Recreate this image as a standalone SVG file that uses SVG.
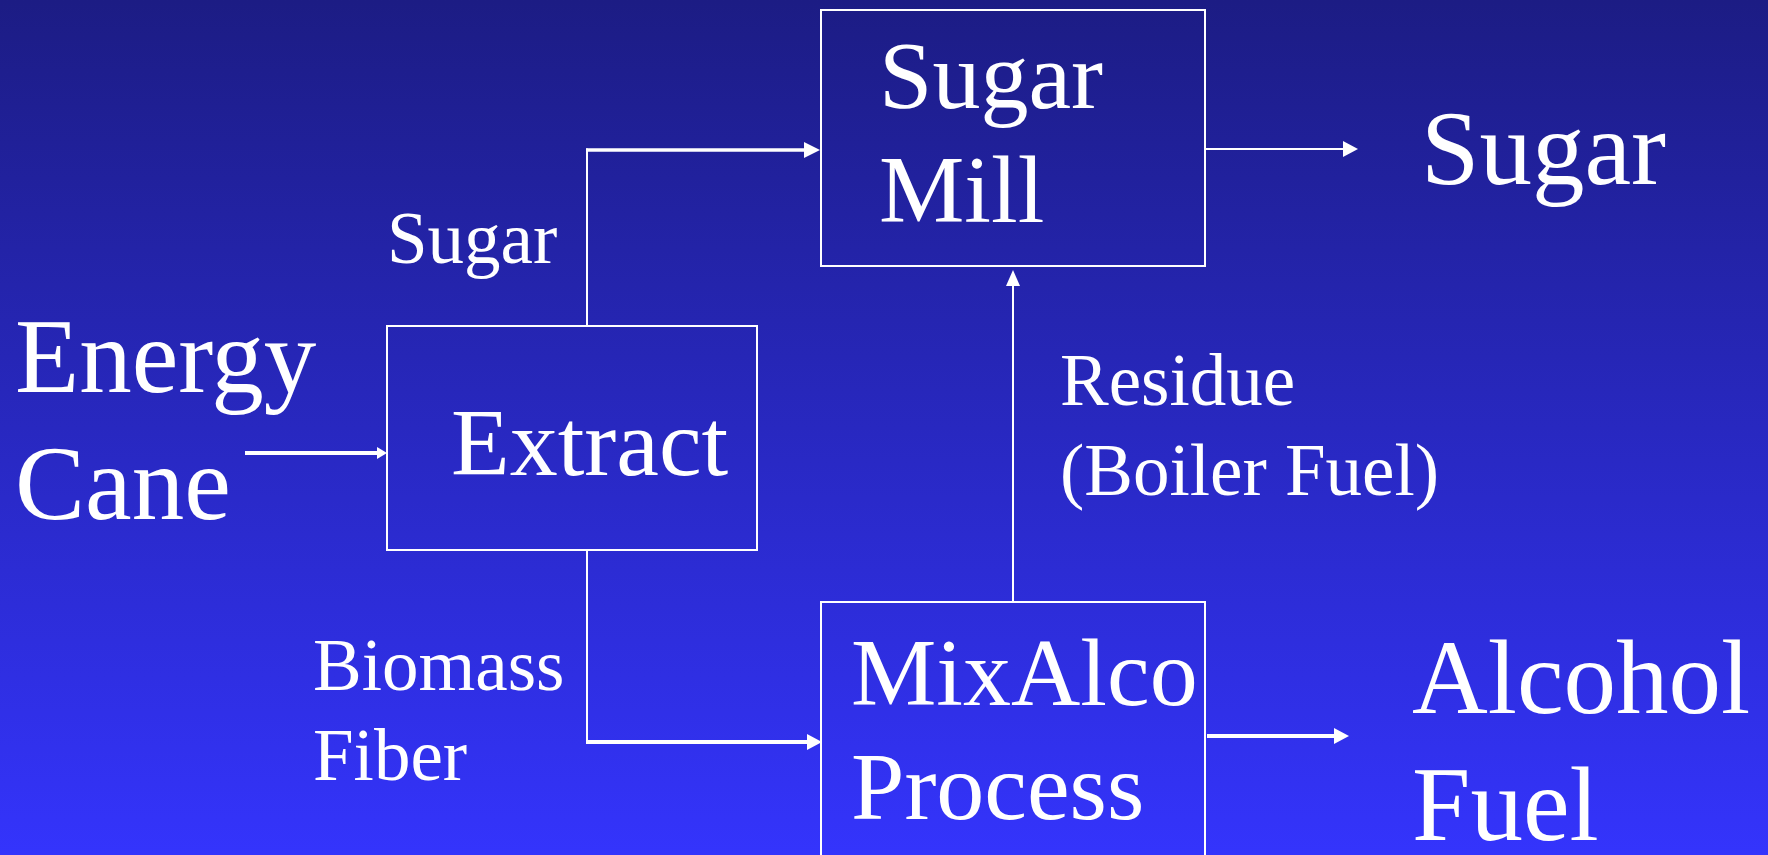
<svg xmlns="http://www.w3.org/2000/svg" width="1768" height="855" viewBox="0 0 1768 855">
  <defs>
    <linearGradient id="bg" x1="0" y1="0" x2="0" y2="1">
      <stop offset="0" stop-color="#1c1c84"/>
      <stop offset="1" stop-color="#3434fc"/>
    </linearGradient>
    <style>
      .box { fill: none; stroke: #ffffff; stroke-width: 2; }
      .t { fill: #ffffff; font-family: "Liberation Serif", "Times New Roman", serif; }
      .big { font-size: 105px; }
      .mid { font-size: 96px; }
      .small { font-size: 73px; }
      .ln { stroke: #ffffff; fill: none; }
      .head { fill: #ffffff; }
    </style>
  </defs>
  <rect x="0" y="0" width="1768" height="855" fill="url(#bg)"/>

  <g id="node-energy-cane">
    <text class="t big" x="15" y="392">Energy</text>
    <text class="t big" x="15" y="519">Cane</text>
  </g>

  <g id="node-extract">
    <rect class="box" x="387" y="326" width="370" height="224"/>
    <text class="t mid" x="451" y="475">Extract</text>
  </g>

  <g id="node-sugar-mill">
    <rect class="box" x="821" y="10" width="384" height="256"/>
    <text class="t mid" x="879" y="108">Sugar</text>
    <text class="t mid" x="879" y="222">Mill</text>
  </g>

  <g id="node-mixalco">
    <rect class="box" x="821" y="602" width="384" height="270"/>
    <text class="t mid" x="851" y="705">MixAlco</text>
    <text class="t mid" x="851" y="819">Process</text>
  </g>

  <g id="node-sugar-out">
    <text class="t big" x="1421" y="184">Sugar</text>
  </g>

  <g id="node-alcohol-fuel">
    <text class="t big" x="1412" y="713">Alcohol</text>
    <text class="t big" x="1412" y="840">Fuel</text>
  </g>

  <g id="connectors">
    <!-- Energy Cane -> Extract -->
    <line class="ln" x1="245" y1="453" x2="378" y2="453" stroke-width="4"/>
    <polygon class="head" points="387,453 377,447 377,459"/>

    <!-- Extract -> Sugar Mill -->
    <line class="ln" x1="587" y1="326" x2="587" y2="148.5" stroke-width="2"/>
    <line class="ln" x1="586" y1="150" x2="805" y2="150" stroke-width="3.5"/>
    <polygon class="head" points="820,150 804,142 804,158"/>

    <!-- Sugar Mill -> Sugar -->
    <line class="ln" x1="1205" y1="149" x2="1345" y2="149" stroke-width="2"/>
    <polygon class="head" points="1358,149 1343,141 1343,157"/>

    <!-- Extract -> MixAlco -->
    <line class="ln" x1="587" y1="550" x2="587" y2="743" stroke-width="2"/>
    <line class="ln" x1="586" y1="742" x2="808" y2="742" stroke-width="4"/>
    <polygon class="head" points="822,742 807,734 807,750"/>

    <!-- MixAlco -> Alcohol Fuel -->
    <line class="ln" x1="1207" y1="736" x2="1335" y2="736" stroke-width="4"/>
    <polygon class="head" points="1349,736 1334,728 1334,744"/>

    <!-- MixAlco -> Sugar Mill (Residue) -->
    <line class="ln" x1="1013" y1="602" x2="1013" y2="284" stroke-width="2"/>
    <polygon class="head" points="1013,270 1006,286 1020,286"/>
  </g>

  <g id="labels">
    <text class="t small" x="387" y="263">Sugar</text>
    <text class="t small" x="1060" y="405">Residue</text>
    <text class="t small" x="1060" y="495">(Boiler Fuel)</text>
    <text class="t small" x="313" y="690">Biomass</text>
    <text class="t small" x="313" y="780">Fiber</text>
  </g>
</svg>
